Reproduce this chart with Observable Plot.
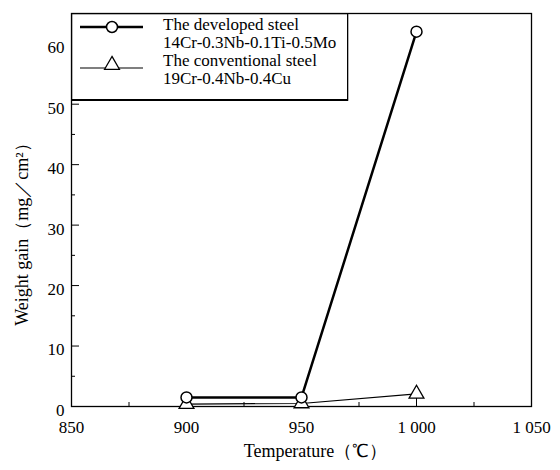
<!DOCTYPE html>
<html><head><meta charset="utf-8">
<script src="https://cdn.jsdelivr.net/npm/d3@7"></script>
<script src="https://cdn.jsdelivr.net/npm/@observablehq/plot@0.6"></script>
<style>
body{margin:0;background:#fff;}
#wrap{position:relative;width:560px;height:470px;}
#legend{position:absolute;left:71px;top:13px;}
svg text{font-family:'Liberation Serif','Times New Roman',serif !important;font-variant-numeric:normal !important;}
</style></head><body><div id="wrap"></div>
<script>
const temperatures = [900, 950, 1000];
const developedSteel = [1.5, 1.5, 62];
const conventionalSteel = [0.4, 0.5, 2.1];
const seriesNames = [["The developed steel", "14Cr-0.3Nb-0.1Ti-0.5Mo"], ["The conventional steel", "19Cr-0.4Nb-0.4Cu"]];
const xTicks = [850, 900, 950, 1000, 1050];
const xTickLabels = ["850", "900", "950", "1 000", "1 050"];
const xMinorTicks = [875, 925, 975, 1025];
const yTicks = [0, 10, 20, 30, 40, 50, 60];
const yTickLabels = ["0", "10", "20", "30", "40", "50", "60"];
const yMinorTicks = [5, 15, 25, 35, 45, 55];
const xLabel = "Temperature（℃）";
const yLabel = "Weight gain（mg／cm²）";

const dev = temperatures.map((t, i) => ({t, v: developedSteel[i]}));
const conv = temperatures.map((t, i) => ({t, v: conventionalSteel[i]}));
const font = "Liberation Serif";

const plot = Plot.plot({
  width: 560, height: 470, marginLeft: 71, marginRight: 29, marginTop: 13, marginBottom: 64,
  style: {fontFamily: font, fontSize: "17px", color: "#000", background: "#fff"},
  x: {domain: [850, 1050]},
  y: {domain: [0, 65]},
  marks: [
    Plot.axisX(xTicks, {tickSize: -8, tickFormat: () => "", label: null}),
    Plot.axisX(xMinorTicks, {tickSize: -4, tickFormat: () => "", label: null}),
    Plot.axisY(yTicks, {tickSize: -8, tickFormat: () => "", label: null}),
    Plot.axisY(yMinorTicks, {tickSize: -4, tickFormat: () => "", label: null}),
    Plot.text(xTicks, {x: d => d, text: (d, i) => xTickLabels[i], frameAnchor: "bottom", dy: 14, lineAnchor: "top", textAnchor: "middle", fontSize: 17, fontFamily: font}),
    Plot.text(yTicks, {y: d => d, text: (d, i) => yTickLabels[i], frameAnchor: "left", dx: -7, dy: 4, textAnchor: "end", lineAnchor: "middle", fontSize: 17, fontFamily: font}),
    Plot.text([xLabel], {frameAnchor: "bottom", dy: 50, dx: 14, textAnchor: "middle", lineAnchor: "bottom", fontSize: 18, fontFamily: font}),
    Plot.text([yLabel], {frameAnchor: "left", rotate: -90, dx: -49, dy: 20, textAnchor: "middle", fontSize: 18, fontFamily: font}),
    Plot.frame({strokeWidth: 1.3}),
    Plot.line(conv, {x: "t", y: "v", stroke: "#000", strokeWidth: 1.2}),
    Plot.line(dev, {x: "t", y: "v", stroke: "#000", strokeWidth: 2.5}),
    Plot.dot(conv, {x: "t", y: "v", symbol: "triangle", r: 5.5, fill: "white", stroke: "#000", strokeWidth: 1.3}),
    Plot.dot(dev, {x: "t", y: "v", r: 5.5, fill: "white", stroke: "#000", strokeWidth: 1.5})
  ]
});
const wrap = document.getElementById("wrap");
wrap.appendChild(plot);

// legend overlay
const ns = "http://www.w3.org/2000/svg";
const lg = document.createElementNS(ns, "svg");
lg.setAttribute("id", "legend");
lg.setAttribute("width", 278);
lg.setAttribute("height", 89);
lg.style.fontFamily = font;
lg.style.fontSize = "17px";
const mk = (tag, attrs, text) => {
  const e = document.createElementNS(ns, tag);
  for (const k in attrs) e.setAttribute(k, attrs[k]);
  if (text) e.textContent = text;
  lg.appendChild(e);
  return e;
};
mk("rect", {x: 0.65, y: 0.65, width: 276, height: 86.5, fill: "white", stroke: "#000", "stroke-width": 1.3});
mk("line", {x1: 0, x2: 277, y1: 87, y2: 87, stroke: "#000", "stroke-width": 1.8});
const rowsY = [[17, 35], [53, 71]];
const symY = [14, 52];
seriesNames.forEach((names, i) => {
  const ly = i === 0 ? symY[0] : symY[1] + 3;
  mk("line", {x1: 9, x2: 72, y1: ly, y2: ly, stroke: "#000", "stroke-width": i === 0 ? 2.5 : 1.2});
  if (i === 0) {
    mk("circle", {cx: 41, cy: symY[0], r: 5.5, fill: "white", stroke: "#000", "stroke-width": 1.5});
  } else {
    const path = d3.symbol(d3.symbolTriangle, Math.PI * 5.5 * 5.5)();
    mk("path", {d: path, transform: `translate(41,${symY[1]})`, fill: "white", stroke: "#000", "stroke-width": 1.3});
  }
  mk("text", {x: 92, y: rowsY[i][0]}, names[0]);
  mk("text", {x: 92, y: rowsY[i][1]}, names[1]);
});
wrap.appendChild(lg);
</script>
</body></html>
